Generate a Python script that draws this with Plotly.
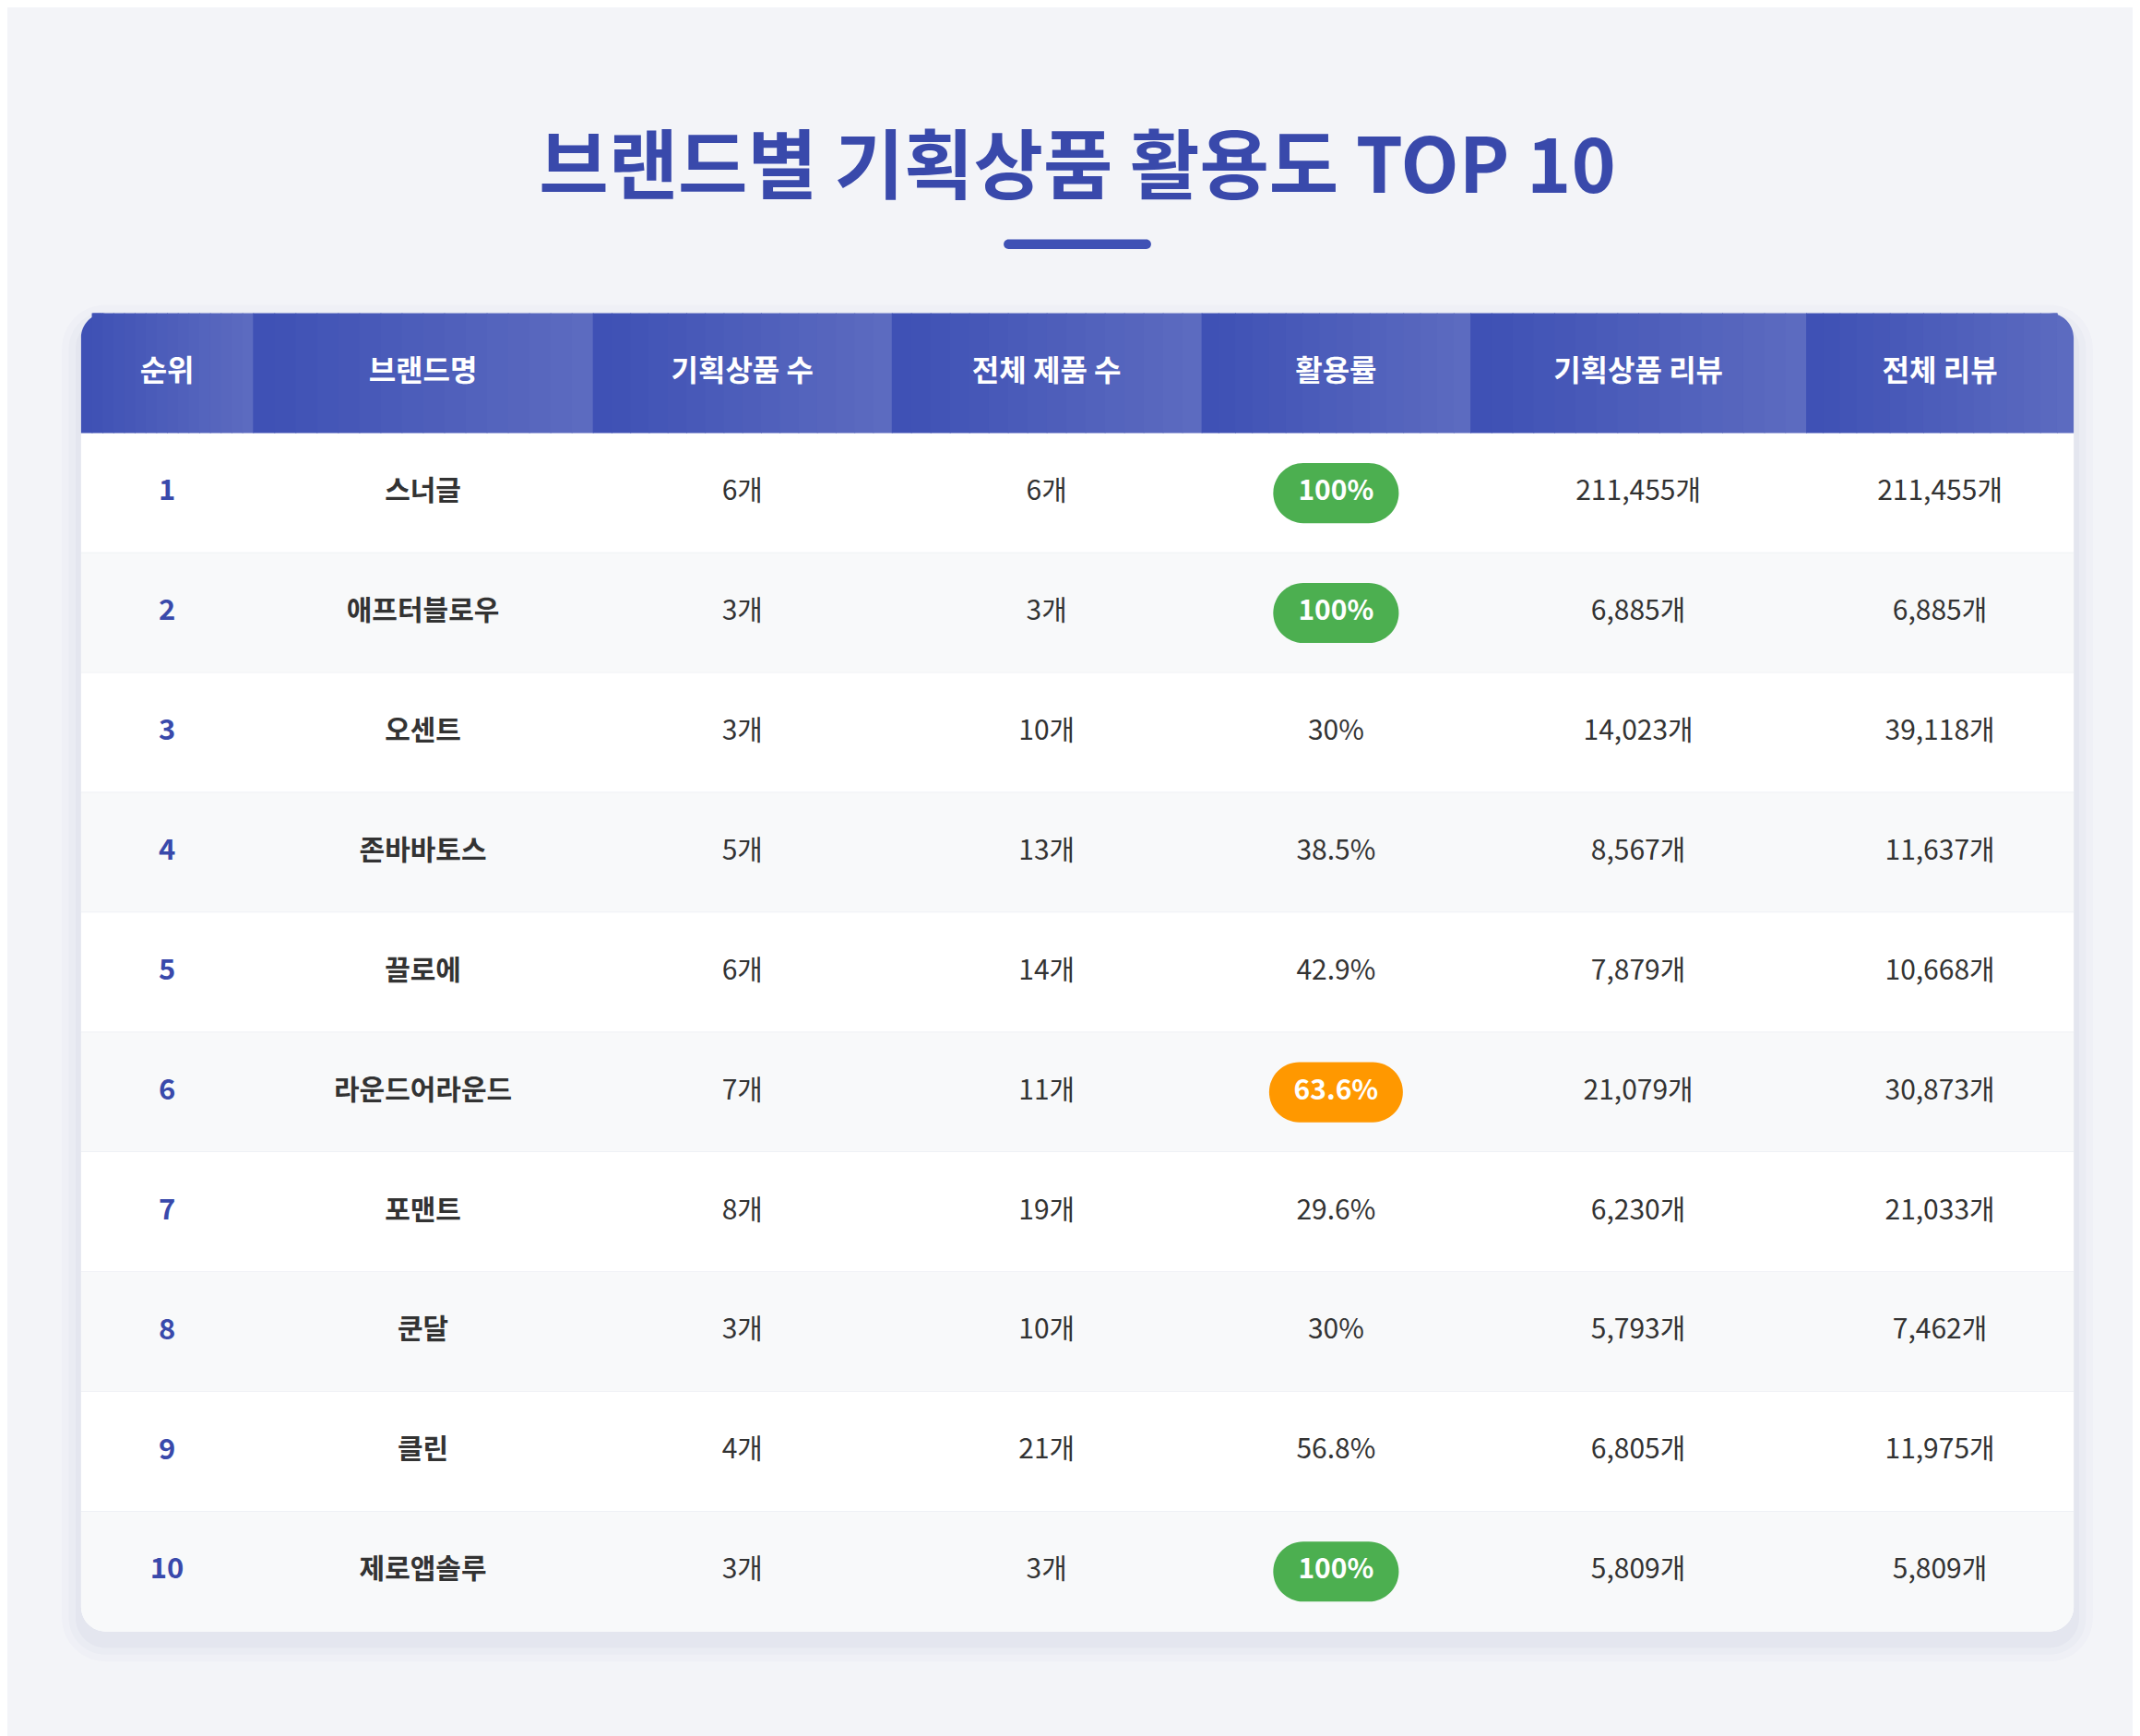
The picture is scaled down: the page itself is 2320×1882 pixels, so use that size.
import plotly.graph_objects as go

title = "브랜드별 기획상품 활용도 TOP 10"
headers = ["순위", "브랜드명", "기획상품 수", "전체 제품 수", "활용률", "기획상품 리뷰", "전체 리뷰"]
ranks = [1, 2, 3, 4, 5, 6, 7, 8, 9, 10]
brands = ["스너글", "애프터블로우", "오센트", "존바바토스", "끌로에", "라운드어라운드", "포맨트", "쿤달", "클린", "제로앱솔루"]
promo_counts = [6, 3, 3, 5, 6, 7, 8, 3, 4, 3]
total_counts = [6, 3, 10, 13, 14, 11, 19, 10, 21, 3]
rates = ["100%", "100%", "30%", "38.5%", "42.9%", "63.6%", "29.6%", "30%", "56.8%", "100%"]
promo_reviews = [211455, 6885, 14023, 8567, 7879, 21079, 6230, 5793, 6805, 5809]
total_reviews = [211455, 6885, 39118, 11637, 10668, 30873, 21033, 7462, 11975, 5809]

W, H = 1568, 1272
FONT = "Noto Sans CJK KR"
edges = [54, 180, 429, 648, 875, 1072, 1318, 1514]
centers = [(edges[i] + edges[i + 1]) / 2 for i in range(7)]
HT, HB = 224, 312
RH = (1190 - 312) / 10
K = 0.4477  # 1 - 0.5523

def rrect(x0, y0, x1, y1, r, top_only=False, bottom_only=False):
    rt = 0 if bottom_only else r
    rb = 0 if top_only else r
    kt, kb = rt * K, rb * K
    return (f"M{x0+rt},{y0} L{x1-rt},{y0} C{x1-kt},{y0} {x1},{y0+kt} {x1},{y0+rt} "
            f"L{x1},{y1-rb} C{x1},{y1-kb} {x1-kb},{y1} {x1-rb},{y1} "
            f"L{x0+rb},{y1} C{x0+kb},{y1} {x0},{y1-kb} {x0},{y1-rb} "
            f"L{x0},{y0+rt} C{x0},{y0+kt} {x0+kt},{y0} {x0+rt},{y0} Z")

shapes = []
for k, a in enumerate([0.02, 0.025, 0.03]):
    g = 14 - k * 5
    shapes.append(dict(type="path", path=rrect(54 - g, 224 - g + 8, 1514 + g, 1190 + g + 8, 18 + g),
                       fillcolor=f"rgba(60,70,140,{a})", line=dict(width=0)))
shapes.append(dict(type="path", path=rrect(54, 224, 1514, 1190, 18), fillcolor="white", line=dict(width=0)))
for i in range(10):
    y0 = HB + i * RH
    fill = "#ffffff" if i % 2 == 0 else "#f8f9fa"
    if i == 9:
        shapes.append(dict(type="path", path=rrect(54, y0, 1514, y0 + RH, 18, bottom_only=True), fillcolor=fill, line=dict(width=0)))
    else:
        shapes.append(dict(type="rect", x0=54, x1=1514, y0=y0, y1=y0 + RH, fillcolor=fill, line=dict(width=0)))
        shapes.append(dict(type="line", x0=54, x1=1514, y0=y0 + RH, y1=y0 + RH, line=dict(color="#eceef3", width=1.5)))
def lerp(c1, c2, t):
    return "#%02x%02x%02x" % tuple(int(c1[j] + (c2[j] - c1[j]) * t) for j in range(3))
c1, c2 = (63, 81, 181), (92, 107, 192)
N = 16
r = 18
for ci in range(7):
    a, b = edges[ci], edges[ci + 1]
    for s in range(N):
        xa = a + (b - a) * s / N
        xb = a + (b - a) * (s + 1) / N + 0.6
        col = lerp(c1, c2, s / (N - 1))
        if ci == 0 and s == 0:
            shapes.append(dict(type="path", path=f"M{a},{HB} L{a},{HT+r} C{a},{HT+r*K} {a+r*K},{HT} {a+r},{HT} L{xb},{HT} L{xb},{HB} Z", fillcolor=col, line=dict(width=0)))
        elif ci == 6 and s == N - 1:
            shapes.append(dict(type="path", path=f"M{xa},{HB} L{xa},{HT} L{b-r},{HT} C{b-r*K},{HT} {b},{HT+r*K} {b},{HT+r} L{b},{HB} Z", fillcolor=col, line=dict(width=0)))
        else:
            shapes.append(dict(type="rect", x0=xa, x1=xb, y0=HT, y1=HB, fillcolor=col, line=dict(width=0)))
shapes.append(dict(type="path", path=rrect(730, 170, 838, 177, 3.5), fillcolor="#3f51b5", line=dict(width=0)))
rate_text_colors = []
for i, rt in enumerate(rates):
    v = float(rt.rstrip("%"))
    yc = HB + (i + 0.5) * RH
    if v >= 100 or abs(v - 63.6) < 0.01:
        color = "#4caf50" if v >= 100 else "#ff9800"
        hw = 46 if v >= 100 else 49
        shapes.append(dict(type="path", path=rrect(centers[4] - hw, yc - 22, centers[4] + hw, yc + 22, 22), fillcolor=color, line=dict(width=0)))
        rate_text_colors.append("white")
    else:
        rate_text_colors.append("#333333")
for s in shapes:
    s["layer"] = "below"

rows_y = [HB + (i + 0.5) * RH for i in range(10)]
fig = go.Figure()
def col_trace(ci, texts, color, bold=False, size=30):
    t = [f"<b>{s}</b>" if bold else s for s in texts]
    fig.add_trace(go.Scatter(x=[centers[ci]] * len(texts), y=rows_y, mode="text", text=t,
                             textfont=dict(family=FONT, size=size, color=color), hoverinfo="skip", showlegend=False))

col_trace(0, [str(x) for x in ranks], "#3949ab", True, 31)
col_trace(1, brands, "#333333", True, 30)
col_trace(2, [f"{v}개" for v in promo_counts], "#333333")
col_trace(3, [f"{v}개" for v in total_counts], "#333333")
fig.add_trace(go.Scatter(x=[centers[4]] * 10, y=rows_y, mode="text",
                         text=[f"<b>{x}</b>" if c == "white" else x for x, c in zip(rates, rate_text_colors)],
                         textfont=dict(family=FONT, size=30, color=rate_text_colors), hoverinfo="skip", showlegend=False))
col_trace(5, [f"{v:,}개" for v in promo_reviews], "#333333")
col_trace(6, [f"{v:,}개" for v in total_reviews], "#333333")
fig.add_trace(go.Scatter(x=centers, y=[(HT + HB) / 2] * 7, mode="text", text=[f"<b>{h}</b>" for h in headers],
                         textfont=dict(family=FONT, size=32, color="white"), hoverinfo="skip", showlegend=False))
fig.add_trace(go.Scatter(x=[W / 2], y=[122], mode="text", text=[f"<b>{title}</b>"],
                         textfont=dict(family=FONT, size=82, color="#3949ab"), hoverinfo="skip", showlegend=False))

fig.update_layout(width=2320, height=1882, margin=dict(l=0, r=0, t=0, b=0),
                  paper_bgcolor="#f3f4f8", plot_bgcolor="#f3f4f8", shapes=shapes,
                  xaxis=dict(range=[0, W], visible=False, fixedrange=True),
                  yaxis=dict(range=[H, 0], visible=False, fixedrange=True))
fig.write_html("out.html", config={"displayModeBar": False})
